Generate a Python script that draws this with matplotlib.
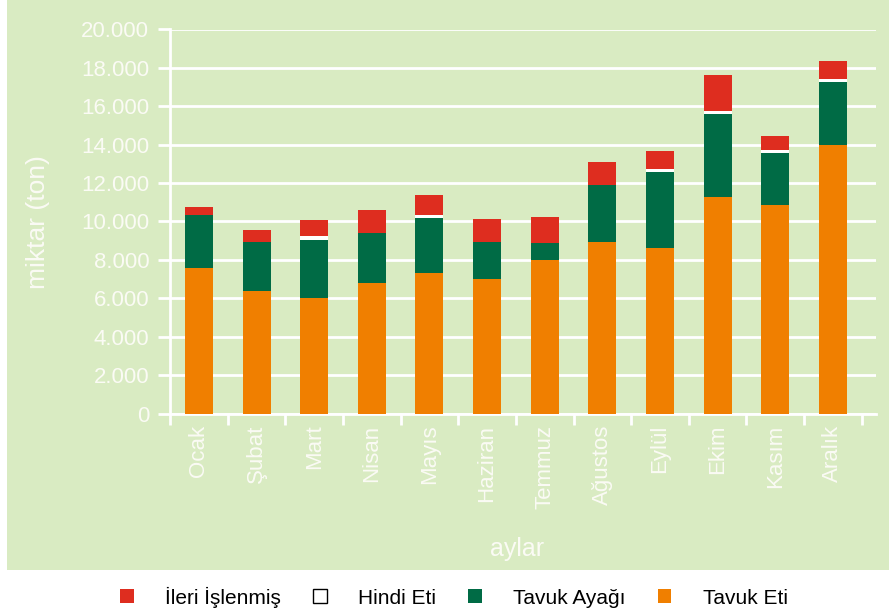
import matplotlib
matplotlib.use("Agg")
import matplotlib.pyplot as plt
from matplotlib.patches import Rectangle, Patch
from matplotlib import font_manager
import numpy as np

months = ['Ocak', 'Şubat', 'Mart', 'Nisan', 'Mayıs', 'Haziran', 'Temmuz',
          'Ağustos', 'Eylül', 'Ekim', 'Kasım', 'Aralık']
tavuk_eti = [7600, 6380, 6030, 6800, 7320, 7000, 8000, 8930, 8620, 11280, 10860, 13980]
tavuk_ayagi = [2740, 2570, 3010, 2600, 2860, 1930, 880, 2970, 3960, 4320, 2710, 3290]
hindi_eti = [0, 0, 200, 0, 170, 0, 0, 0, 160, 160, 160, 160]
ileri_islenmis = [420, 610, 840, 1200, 1030, 1200, 1350, 1200, 930, 1870, 720, 930]
yticks = [0, 2000, 4000, 6000, 8000, 10000, 12000, 14000, 16000, 18000, 20000]

bg = '#d9ebc2'
c_orange = '#f07f00'
c_green = '#006b45'
c_red = '#de2d1f'
txt = '#fbfbf5'

names = [f.name for f in font_manager.fontManager.ttflist]
narrow = 'Liberation Sans Narrow' if 'Liberation Sans Narrow' in names else 'Liberation Sans'
plt.rcParams['font.family'] = [narrow, 'DejaVu Sans']

fig = plt.figure(figsize=(8.89, 6.16), dpi=100, facecolor='white')
fig.patches.append(Rectangle((7 / 889, 1 - 570 / 616), 882 / 889, 570 / 616,
                             transform=fig.transFigure, facecolor=bg,
                             edgecolor='none', zorder=-5))
ax = fig.add_axes([170 / 889, 1 - 413.5 / 616, 706 / 889, 384 / 616])
ax.set_facecolor(bg)

x = np.arange(len(months))
w = 0.486
b1 = np.array(tavuk_eti)
b2 = b1 + np.array(tavuk_ayagi)
b3 = b2 + np.array(hindi_eti)
ax.bar(x, tavuk_eti, w, color=c_orange, zorder=3)
ax.bar(x, tavuk_ayagi, w, bottom=b1, color=c_green, zorder=3)
ax.bar(x, hindi_eti, w, bottom=b2, color='white', zorder=3)
ax.bar(x, ileri_islenmis, w, bottom=b3, color=c_red, zorder=3)

ax.set_xlim(-0.503, 11.75)
ax.set_ylim(0, 20000)
ax.set_yticks(yticks)
ax.set_yticklabels(['0' if v == 0 else f'{v:,}'.replace(',', '.') for v in yticks])
ax.yaxis.grid(True, color='white', lw=2, zorder=1)
ax.set_axisbelow(True)

ax.set_xticks(x)
ax.set_xticklabels(months, rotation=90, va='top')
ax.set_xticks(np.arange(-0.5, 12, 1), minor=True)
ax.tick_params(axis='x', which='major', length=0, pad=8, labelsize=16, labelcolor=txt)
ax.tick_params(axis='x', which='minor', length=8, width=2, color='white', direction='out')
ax.tick_params(axis='y', length=9, width=2, color='white', labelsize=16, labelcolor=txt, pad=6)

for s in ['top', 'right']:
    ax.spines[s].set_visible(False)
for s in ['left', 'bottom']:
    ax.spines[s].set_color('white')
    ax.spines[s].set_linewidth(2)

fig.text(38 / 889, 1 - 222 / 616, 'miktar (ton)', rotation=90, ha='center', va='center',
         fontsize=19, color=txt)
fig.text(517 / 889, 1 - 549 / 616, 'aylar', ha='center', va='center', fontsize=18, color=txt)

handles = [Patch(facecolor=c_red), Patch(facecolor='white', edgecolor='black', lw=1),
           Patch(facecolor=c_green), Patch(facecolor=c_orange)]
labels = ['İleri İşlenmiş', 'Hindi Eti', 'Tavuk Ayağı', 'Tavuk Eti']
fig.legend(handles, labels, loc='center', bbox_to_anchor=(454 / 889, 1 - 597 / 616),
           ncol=4, frameon=False, fontsize=15, handlelength=0.65, handleheight=0.65,
           handletextpad=1.5, columnspacing=1.55)

fig.savefig('out.png', dpi=100, facecolor='white')
